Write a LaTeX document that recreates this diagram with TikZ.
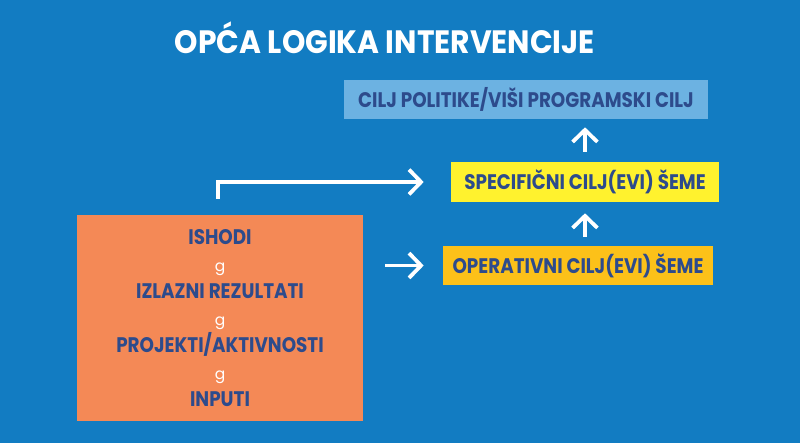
\documentclass[tikz,border=0pt]{standalone}
\usepackage{fontspec}
\setmainfont{Poppins}
\newfontfamily\labelfont{Poppins}[FakeStretch=0.87]
\newfontfamily\headfont{Poppins}[FakeStretch=0.92]
\usepackage{xcolor}
\usetikzlibrary{arrows.meta,positioning,calc}

\definecolor{bgblue}{HTML}{127CC2}
\definecolor{skyblue}{HTML}{6CB2E2}
\definecolor{lemon}{HTML}{FFF22E}
\definecolor{amber}{HTML}{FCC119}
\definecolor{salmon}{HTML}{F48956}
\definecolor{navy}{HTML}{2D4B8C}

\newcommand{\gsep}{{\color{white}\normalfont\mdseries\fontsize{11}{12}\selectfont g}}

\begin{document}
\begin{tikzpicture}[
  x=0.025cm, y=-0.025cm,
  goalbox/.style={rectangle, inner sep=0pt, text=navy, font=\labelfont\bfseries\fontsize{15}{17}\selectfont},
  chainbox/.style={rectangle, fill=salmon, inner sep=0pt, minimum width=7.15cm, minimum height=5.15cm, text=navy, align=center, font=\labelfont\bfseries\fontsize{15}{19.2}\selectfont},
  arr/.style={white, line width=2.7pt, -{Straight Barb[length=3mm, width=6.2mm]}}
]
  \fill[bgblue] (0,0) rectangle (800,443);
  \useasboundingbox (0,0) rectangle (800,443);

  \node[text=white, font=\headfont\bfseries\fontsize{23}{27}\selectfont] (title) at (385,38) {OPĆA LOGIKA INTERVENCIJE};
  \node[goalbox, fill=skyblue, minimum width=9.1cm, minimum height=0.975cm] (goal) at (526,99.5) {CILJ POLITIKE/VIŠI PROGRAMSKI CILJ};
  \node[goalbox, fill=lemon, minimum width=6.7cm, minimum height=1cm] (spec) at (585,182) {SPECIFIČNI CILJ(EVI) ŠEME};
  \node[goalbox, fill=amber, minimum width=6.75cm, minimum height=0.975cm] (oper) at (578,265.5) {OPERATIVNI CILJ(EVI) ŠEME};
  \node[chainbox] (chain) at (220,318) {ISHODI\\\gsep\\IZLAZNI REZULTATI\\\gsep\\PROJEKTI/AKTIVNOSTI\\\gsep\\INPUTI};

  \coordinate (bend0) at ($(chain.north)+(-2,-16)$);

  \draw[arr, shorten <=0.25cm, shorten >=0.2cm] (spec.north) -- (spec.north |- goal.south);
  \draw[arr, shorten <=0.225cm, shorten >=0.275cm] (spec.south |- oper.north) -- (spec.south);
  \draw[arr, shorten >=0.675cm] (bend0) |- (spec.west);
  \draw[arr, shorten <=0.55cm, shorten >=0.475cm] (chain.east |- oper.west) -- (oper.west);
\end{tikzpicture}
\end{document}
